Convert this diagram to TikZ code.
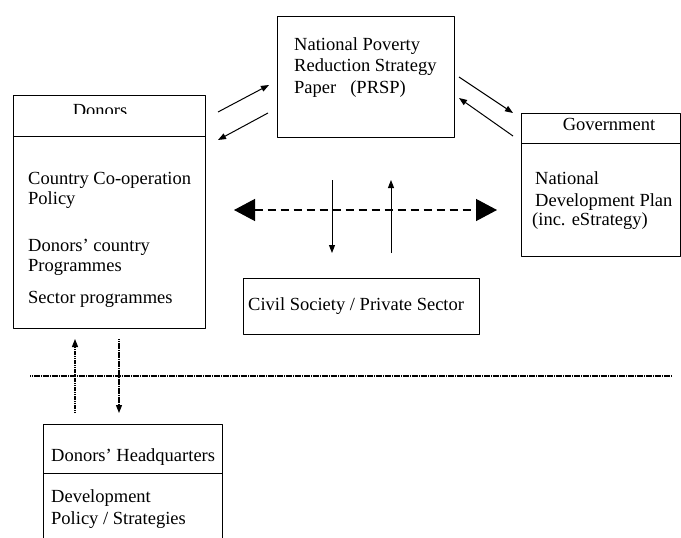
\documentclass[tikz,border=0pt]{standalone}
\usepackage{fontspec}
\setmainfont{Liberation Serif}
\usetikzlibrary{arrows.meta}
\begin{document}
\begin{tikzpicture}[x=1pt, y=-1pt, >={Triangle[length=8pt,width=6pt]},
  font=\fontsize{18.5}{21}\selectfont, line join=round,
  box/.style={draw, line width=1pt, anchor=north west, inner sep=0pt},
  txt/.style={anchor=base west, inner sep=0pt},
  flow/.style={->, line width=1pt},
  dotline/.style={line width=1.2pt, dash pattern=on 1.3pt off 0.5pt}]
  \useasboundingbox (0,0) rectangle (681,538);
  \clip (0,0) rectangle (681,538);
  %\draw[gray!40] (0,0) grid[step=50] (681,538);
  % boxes
  \node (donors) [box, minimum width=192pt, minimum height=233pt] at (13,95) {};
  \node (prsp) [box, minimum width=177pt, minimum height=121pt] at (277,16) {};
  \node (govt) [box, minimum width=159pt, minimum height=143pt] at (521,113) {};
  \node (civil) [box, minimum width=236pt, minimum height=56pt] at (243,278) {};
  \node (hq) [box, minimum width=179pt, minimum height=140pt] at (43,424) {};
  \draw[line width=1pt] (13,136) -- (205,136);
  \draw[line width=1pt] (521,143) -- (680,143);
  \draw[line width=1pt] (43,473) -- (222,473);
  % texts
  \begin{scope}
    \clip (13,95) rectangle (205,113);
    \node (donorshead) [anchor=base, inner sep=0pt] at (100,116) {Donors};
  \end{scope}
  \foreach \y/\t [count=\i] in {184/Country Co-operation, 204/Policy, 251/Donors' country, 271/Programmes, 303/Sector programmes}
    \node (dtxt\i) [txt] at (28,\y) {\t};
  \foreach \y/\t [count=\i] in {50/National Poverty, 71/Reduction Strategy, 93/Paper\hspace{14pt}(PRSP)}
    \node (ptxt\i) [txt] at (294,\y) {\t};
  \node (govhead) [anchor=base, inner sep=0pt] at (609,130) {Government};
  \node (gtxt1) [txt] at (535,184) {National};
  \node (gtxt2) [txt] at (535,206) {Development Plan};
  \node (gtxt3) [txt] at (532,225) {(inc. eStrategy)};
  \node (ctxt) [txt] at (248,310) {Civil Society / Private Sector};
  \node (hqhead) [txt] at (51,461) {Donors' Headquarters};
  \node (htxt1) [txt] at (51,502) {Development};
  \node (htxt2) [txt] at (51,524) {Policy / Strategies};
  % arrows
  \coordinate (dpa) at (218,112); \coordinate (dpb) at (269,85);
  \coordinate (pda) at (268,113); \coordinate (pdb) at (218,140);
  \coordinate (pga) at (459,77);  \coordinate (pgb) at (513,113);
  \coordinate (gpa) at (513,136); \coordinate (gpb) at (459,98);
  \coordinate (cda) at (332,180); \coordinate (cdb) at (332,253);
  \coordinate (cua) at (391,253); \coordinate (cub) at (391,180);
  \coordinate (dl) at (234,210);  \coordinate (dr) at (497,210);
  \coordinate (hl) at (30,376);   \coordinate (hr) at (672,376);
  \coordinate (hua) at (75,413);  \coordinate (hub) at (75,339);
  \coordinate (hda) at (119,339); \coordinate (hdb) at (119,413);
  \draw[flow] (dpa) -- (dpb);
  \draw[flow] (pda) -- (pdb);
  \draw[flow] (pga) -- (pgb);
  \draw[flow] (gpa) -- (gpb);
  \draw[flow] (cda) -- (cdb);
  \draw[flow] (cua) -- (cub);
  \draw[{Triangle[length=21pt,width=22pt]}-{Triangle[length=21pt,width=22pt]}, line width=1.3pt, dash pattern=on 8pt off 5pt] (dl) -- (dr);
  \draw[dotline] (hl) -- (hr);
  \draw[dotline, ->] (hua) -- (hub);
  \draw[dotline, ->] (hda) -- (hdb);
\end{tikzpicture}
\end{document}
